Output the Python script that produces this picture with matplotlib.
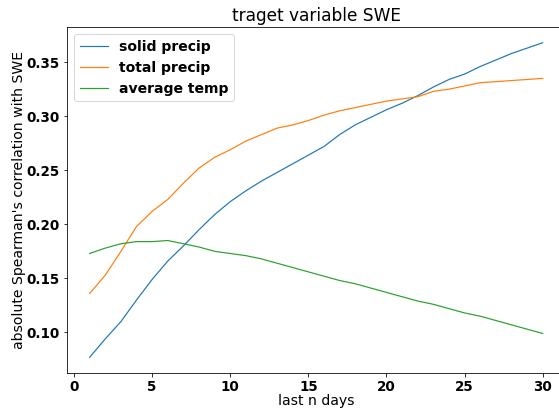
import numpy as np
import matplotlib
matplotlib.use("Agg")
import matplotlib.pyplot as plt

# correlation of each predictor with SWE, aggregated over the last n days
days = list(range(1, 31))

solid_precip = [0.077, 0.094, 0.110, 0.130, 0.149, 0.166, 0.180, 0.195, 0.209, 0.221,
                0.231, 0.240, 0.248, 0.256, 0.264, 0.272, 0.283, 0.292, 0.299, 0.306,
                0.312, 0.319, 0.327, 0.334, 0.339, 0.346, 0.352, 0.358, 0.363, 0.368]

total_precip = [0.136, 0.153, 0.175, 0.198, 0.212, 0.223, 0.238, 0.252, 0.262, 0.269,
                0.277, 0.283, 0.289, 0.292, 0.296, 0.301, 0.305, 0.308, 0.311, 0.314,
                0.316, 0.318, 0.323, 0.325, 0.328, 0.331, 0.332, 0.333, 0.334, 0.335]

average_temp = [0.173, 0.178, 0.182, 0.184, 0.184, 0.185, 0.182, 0.179, 0.175, 0.173,
                0.171, 0.168, 0.164, 0.160, 0.156, 0.152, 0.148, 0.145, 0.141, 0.137,
                0.133, 0.129, 0.126, 0.122, 0.118, 0.115, 0.111, 0.107, 0.103, 0.099]

labels = ["solid precip", "total precip", "average temp"]

fig = plt.figure(figsize=(559 / 72, 411 / 72), dpi=72)
ax = fig.add_axes([0.1199, 0.0925, 0.8914, 0.8418])

ax.plot(days, solid_precip, label=labels[0], lw=1.2)
ax.plot(days, total_precip, label=labels[1], lw=1.2)
ax.plot(days, average_temp, label=labels[2], lw=1.2)

ax.set_title("traget variable SWE", fontsize=17)
ax.set_xlabel("last n days", fontsize=14, labelpad=0)
ax.set_ylabel("absolute Spearman's correlation with SWE", fontsize=14, labelpad=1)
ax.set_xticks([0, 5, 10, 15, 20, 25, 30])
ax.set_yticks([0.10, 0.15, 0.20, 0.25, 0.30, 0.35])
for lab in ax.get_xticklabels() + ax.get_yticklabels():
    lab.set_fontsize(13.5)
    lab.set_fontweight("bold")

ax.legend(loc="upper left", prop={"size": 14, "weight": "bold"})

fig.savefig("out.png", dpi=72)
plt.close(fig)
